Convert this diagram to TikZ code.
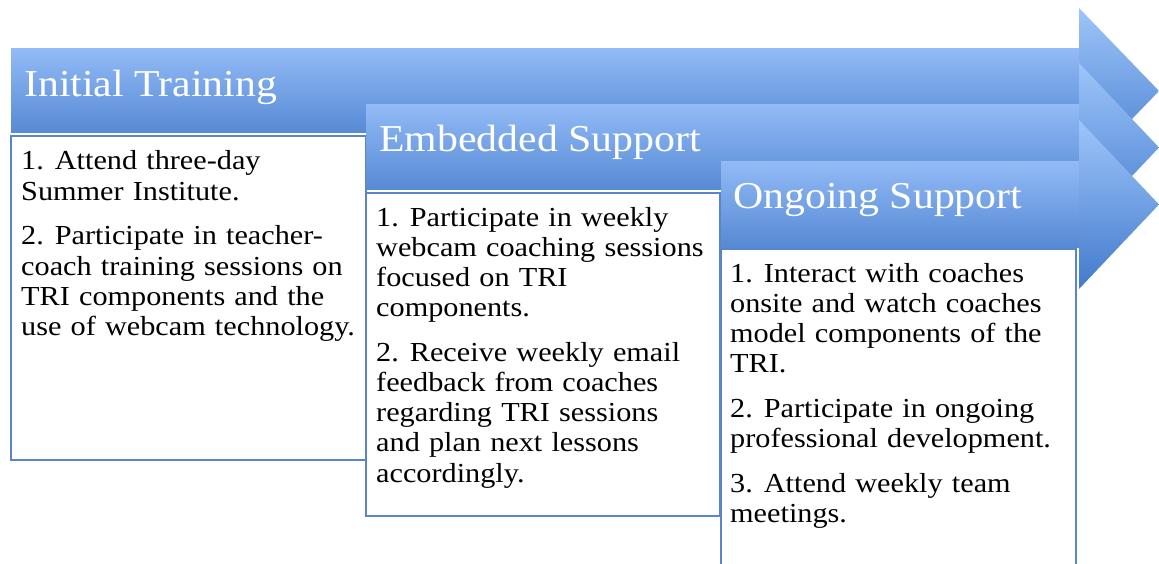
\documentclass[tikz,border=0pt]{standalone}
\usepackage{fontspec}
\setmainfont{Liberation Serif}[FakeStretch=1.1]
\definecolor{bodytop}{RGB}{146,186,246}
\definecolor{bodybot}{RGB}{86,138,212}
\definecolor{headtop}{RGB}{158,197,250}
\definecolor{headbot}{RGB}{66,122,204}
\definecolor{boxline}{RGB}{88,134,200}
\begin{document}
\begin{tikzpicture}[x=1pt,y=-1pt,
  body/.style={top color=bodytop, bottom color=bodybot, draw=none},
  head/.style={top color=headtop, bottom color=headbot, draw=none},
  box/.style={draw=boxline, line width=1.6pt, fill=white},
  hdr/.style={text=white, anchor=base west, inner sep=0pt, font=\fontsize{38}{40}\selectfont},
  txt/.style={anchor=base west, inner sep=0pt, text width=345pt, align=left, font=\fontsize{27.5}{30.2}\selectfont}]
\clip (0,0) rectangle (1159,564);
\fill[white] (0,0) rectangle (1159,564);
% Arrow 1
\shade[body] (11,49) rectangle (1080,133);
\shade[head] (1079,8) -- (1159,91) -- (1079,174) -- cycle;
\draw[box] (11,136) rectangle (366,460);
\node[hdr] (h1) at (24,97) {Initial Training};
\node[txt] (t1) at (21,170) {1.\hspace{11pt}Attend three-day\\ Summer Institute.\\[14.5pt] 2.\hspace{11pt}Participate in teacher-\\ coach training sessions on\\ TRI components and the\\ use of webcam technology.};
% Arrow 2
\shade[body] (366,105) rectangle (1080,190);
\shade[head] (1079,63) -- (1159,147.5) -- (1079,232) -- cycle;
\draw[box] (366,193) rectangle (720,516);
\node[hdr] (h2) at (379,152) {Embedded Support};
\node[txt] (t2) at (376,226) {1.\hspace{11pt}Participate in weekly\\ webcam coaching sessions\\ focused on TRI\\ components.\\[14.5pt] 2.\hspace{11pt}Receive weekly email\\ feedback from coaches\\ regarding TRI sessions\\ and plan next lessons\\ accordingly.};
% Arrow 3
\shade[body] (721,162) rectangle (1080,247);
\shade[head] (1079,120) -- (1159,204.5) -- (1079,289) -- cycle;
\draw[box] (721,249) rectangle (1076,580);
\node[hdr] (h3) at (733,208) {Ongoing Support};
\node[txt] (t3) at (730,282) {1.\hspace{11pt}Interact with coaches\\ onsite and watch coaches\\ model components of the\\ TRI.\\[14.5pt] 2.\hspace{11pt}Participate in ongoing\\ professional development.\\[14.5pt] 3.\hspace{11pt}Attend weekly team\\ meetings.};
\end{tikzpicture}
\end{document}
